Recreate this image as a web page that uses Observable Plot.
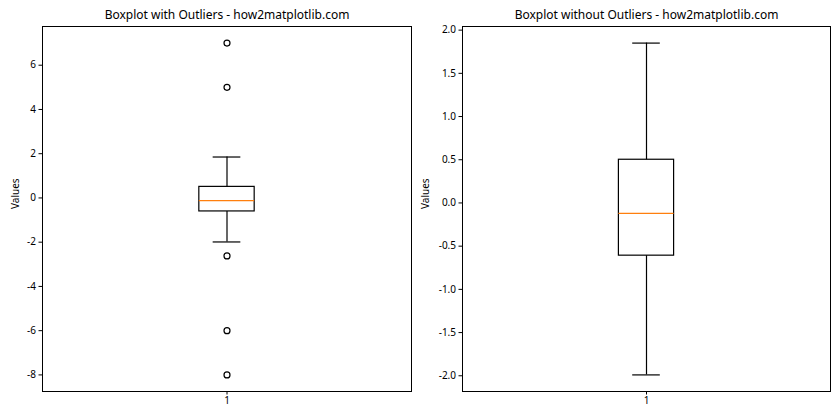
<!DOCTYPE html>
<html>
<head>
<meta charset="utf-8">
<script src="https://cdn.jsdelivr.net/npm/d3@7"></script>
<script src="https://cdn.jsdelivr.net/npm/@observablehq/plot@0.6"></script>
<style>
  body { margin: 0; background: white; }
  #wrap { display: flex; width: 840px; height: 420px; }
</style>
</head>
<body>
<div id="wrap"></div>
<script>
// ---- data ----
const titles = ["Boxplot with Outliers - how2matplotlib.com", "Boxplot without Outliers - how2matplotlib.com"];
const categories = [1];
const q1 = [-0.61];
const median = [-0.12];
const q3 = [0.50];
const whiskerLow = [-1.99];
const whiskerHigh = [1.85];
const outliers = [7, 5, -2.62, -6, -8];
const leftTicks = [-8, -6, -4, -2, 0, 2, 4, 6];
const rightTicks = [-2.0, -1.5, -1.0, -0.5, 0.0, 0.5, 1.0, 1.5, 2.0];

const FONT = "'Noto Sans', 'DejaVu Sans', sans-serif";
const boxHalf = 0.075, capHalf = 0.0375;

function panel(showFliers) {
  const vals = [whiskerLow[0], whiskerHigh[0]].concat(showFliers ? outliers : []);
  const lo = d3.min(vals), hi = d3.max(vals), pad = (hi - lo) * 0.05;
  const boxes = categories.map((c, i) => ({c, q1: q1[i], med: median[i], q3: q3[i], lo: whiskerLow[i], hi: whiskerHigh[i]}));
  const marks = [
    Plot.rect(boxes, {x1: d => d.c - boxHalf, x2: d => d.c + boxHalf, y1: "q1", y2: "q3", fill: "none", stroke: "black", strokeWidth: 1.2}),
    Plot.ruleX(boxes, {x: "c", y1: "q3", y2: "hi", stroke: "black", strokeWidth: 1.2}),
    Plot.ruleX(boxes, {x: "c", y1: "lo", y2: "q1", stroke: "black", strokeWidth: 1.2}),
    Plot.ruleY(boxes, {y: "hi", x1: d => d.c - capHalf, x2: d => d.c + capHalf, stroke: "black", strokeWidth: 1.2}),
    Plot.ruleY(boxes, {y: "lo", x1: d => d.c - capHalf, x2: d => d.c + capHalf, stroke: "black", strokeWidth: 1.2}),
    Plot.ruleY(boxes, {y: "med", x1: d => d.c - boxHalf, x2: d => d.c + boxHalf, stroke: "#ff7f0e", strokeWidth: 1.2}),
  ];
  if (showFliers) {
    marks.push(Plot.dot(outliers, {x: () => categories[0], y: d => d, r: 3, stroke: "black", fill: "none", strokeWidth: 1.2}));
  }
  const ticks = showFliers ? leftTicks : rightTicks;
  marks.push(
    Plot.frame({stroke: "black", strokeWidth: 1}),
    Plot.axisX({ticks: categories, tickFormat: d => String(d), tickSize: 3.5, tickPadding: 2, label: null, fontSize: 10}),
    Plot.axisY({ticks, tickFormat: d => showFliers ? d.toFixed(0) : d.toFixed(1), tickSize: 3.5, tickPadding: 3, label: null, fontSize: 10}),
    Plot.text(["Values"], {frameAnchor: "left", dx: showFliers ? -27 : -37, rotate: -90, fontSize: 10}),
    Plot.text([titles[showFliers ? 0 : 1]], {frameAnchor: "top", dy: -11, lineAnchor: "middle", fontSize: 12})
  );
  return Plot.plot({
    width: 420, height: 420,
    marginLeft: 42, marginRight: showFliers ? 9 : 10, marginTop: 26, marginBottom: 29,
    style: {fontFamily: FONT, fontSize: "10px", background: "white", color: "black", overflow: "visible"},
    x: {domain: [0.5, 1.5]},
    y: {domain: [lo - pad, hi + pad]},
    marks
  });
}
const wrap = document.getElementById("wrap");
wrap.appendChild(panel(true));
wrap.appendChild(panel(false));
</script>
</body>
</html>
